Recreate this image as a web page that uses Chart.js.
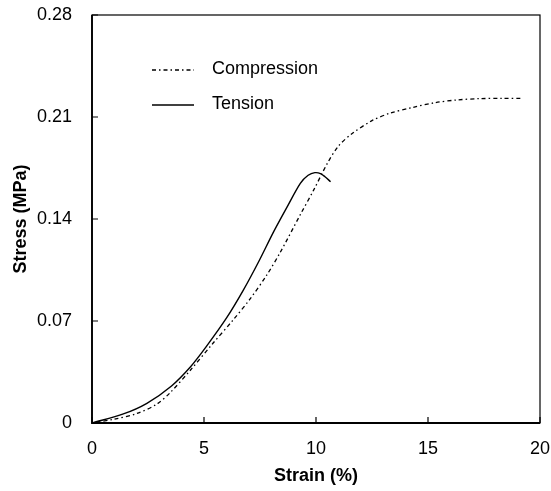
<!DOCTYPE html>
<html>
<head>
<meta charset="utf-8">
<script src="https://cdn.jsdelivr.net/npm/chart.js@4"></script>
<style>
  html, body { margin: 0; padding: 0; background: #fff; }
  #wrap { width: 551px; height: 491px; }
</style>
</head>
<body>
<div id="wrap"><canvas id="stressChart" width="551" height="491"></canvas></div>
<script>
// strain (%) and stress (MPa)
const compStrain = [0, 0.95, 2.0, 2.9, 3.5, 4.4, 5.4, 6.3, 7.05, 7.8, 8.4, 9.3, 9.9, 10.5, 11.0, 11.6, 12.5, 13.3, 14.3, 15.3, 16.3, 17.3, 18.3, 19.2];
const compStress = [0, 0.0025, 0.0065, 0.013, 0.021, 0.0364, 0.0547, 0.0707, 0.0850, 0.1015, 0.117, 0.143, 0.160, 0.178, 0.190, 0.1985, 0.2075, 0.2126, 0.2165, 0.2198, 0.2217, 0.2226, 0.2228, 0.2228];
const tensStrain = [0, 1.4, 2.45, 3.55, 4.4, 5.1, 6.0, 6.75, 7.45, 8.1, 8.7, 9.3, 9.65, 9.95, 10.2, 10.4, 10.65];
const tensStress = [0, 0.0062, 0.0135, 0.0254, 0.0386, 0.0524, 0.0719, 0.091, 0.111, 0.131, 0.148, 0.1645, 0.170, 0.1718, 0.1712, 0.169, 0.1656];

const xTicks = [0, 5, 10, 15, 20];
const yTicks = [0, 0.07, 0.14, 0.21, 0.28];
const yTickLabels = ['0', '0.07', '0.14', '0.21', '0.28'];

const toPoints = (xs, ys) => xs.map((x, i) => ({ x: x, y: ys[i] }));

// frame, inward ticks and the legend inside the plot
const framePlugin = {
    id: 'frame',
    afterDraw(chart) {
        const c = chart.ctx;
        const a = chart.chartArea;
        const xs = chart.scales.x, ys = chart.scales.y;
        c.save();
        c.strokeStyle = '#000';
        c.lineWidth = 1.2;
        c.strokeRect(a.left, a.top, a.right - a.left, a.bottom - a.top);
        c.lineWidth = 1.8;
        c.beginPath();
        c.moveTo(a.left, a.top);
        c.lineTo(a.left, a.bottom);
        c.lineTo(a.right, a.bottom);
        c.stroke();
        c.lineWidth = 1.2;
        c.beginPath();
        xTicks.forEach(v => {
            const px = xs.getPixelForValue(v);
            c.moveTo(px, a.bottom);
            c.lineTo(px, a.bottom - 6);
        });
        yTicks.forEach(v => {
            const py = ys.getPixelForValue(v);
            c.moveTo(a.left, py);
            c.lineTo(a.left + 6, py);
        });
        c.stroke();

        // legend
        c.font = '18px "Liberation Sans", Arial, sans-serif';
        c.textBaseline = 'middle';
        c.fillStyle = '#000';
        chart.data.datasets.forEach((ds, i) => {
            const y = a.top + 54 + i * 35;
            c.setLineDash(ds.borderDash || []);
            c.lineWidth = ds.borderWidth;
            c.beginPath();
            c.moveTo(a.left + 60, y + 1);
            c.lineTo(a.left + 102, y + 1);
            c.stroke();
            c.setLineDash([]);
            c.fillText(ds.label, a.left + 120, y);
        });
        c.restore();
    }
};

const ctx = document.getElementById('stressChart').getContext('2d');
new Chart(ctx, {
    type: 'line',
    data: {
        datasets: [
            {
                label: 'Compression',
                data: toPoints(compStrain, compStress),
                borderColor: '#000',
                borderWidth: 1.3,
                borderDash: [4, 3, 1.5, 3],
                pointRadius: 0,
                tension: 0.3,
                fill: false
            },
            {
                label: 'Tension',
                data: toPoints(tensStrain, tensStress),
                borderColor: '#000',
                borderWidth: 1.4,
                pointRadius: 0,
                tension: 0.3,
                fill: false
            }
        ]
    },
    options: {
        responsive: false,
        animation: false,
        layout: { padding: { top: 15, right: 11, left: 0, bottom: 0 } },
        plugins: {
            legend: { display: false },
            tooltip: { enabled: false }
        },
        scales: {
            x: {
                type: 'linear',
                min: 0,
                max: 20,
                afterBuildTicks: s => { s.ticks = xTicks.map(v => ({ value: v })); },
                afterFit: s => { s.height = 68; s.paddingLeft = 0; s.paddingRight = 0; },
                grid: { display: false, drawTicks: false },
                border: { display: false },
                ticks: {
                    padding: 15,
                    color: '#000',
                    font: { family: '"Liberation Sans", Arial, sans-serif', size: 18 }
                },
                title: {
                    display: true,
                    text: 'Strain (%)',
                    color: '#000',
                    padding: { top: 0, bottom: 4 },
                    font: { family: '"Liberation Sans", Arial, sans-serif', size: 18, weight: 'bold' }
                }
            },
            y: {
                min: 0,
                max: 0.28,
                afterBuildTicks: s => { s.ticks = yTicks.map(v => ({ value: v })); },
                afterFit: s => { s.width = 92; s.paddingTop = 0; s.paddingBottom = 0; },
                grid: { display: false, drawTicks: false },
                border: { display: false },
                ticks: {
                    padding: 20,
                    color: '#000',
                    font: { family: '"Liberation Sans", Arial, sans-serif', size: 18 },
                    callback: (v, i) => yTickLabels[i]
                },
                title: {
                    display: true,
                    text: 'Stress (MPa)',
                    color: '#000',
                    padding: { top: 10, bottom: 0 },
                    font: { family: '"Liberation Sans", Arial, sans-serif', size: 18, weight: 'bold' }
                }
            }
        }
    },
    plugins: [framePlugin]
});
</script>
</body>
</html>
